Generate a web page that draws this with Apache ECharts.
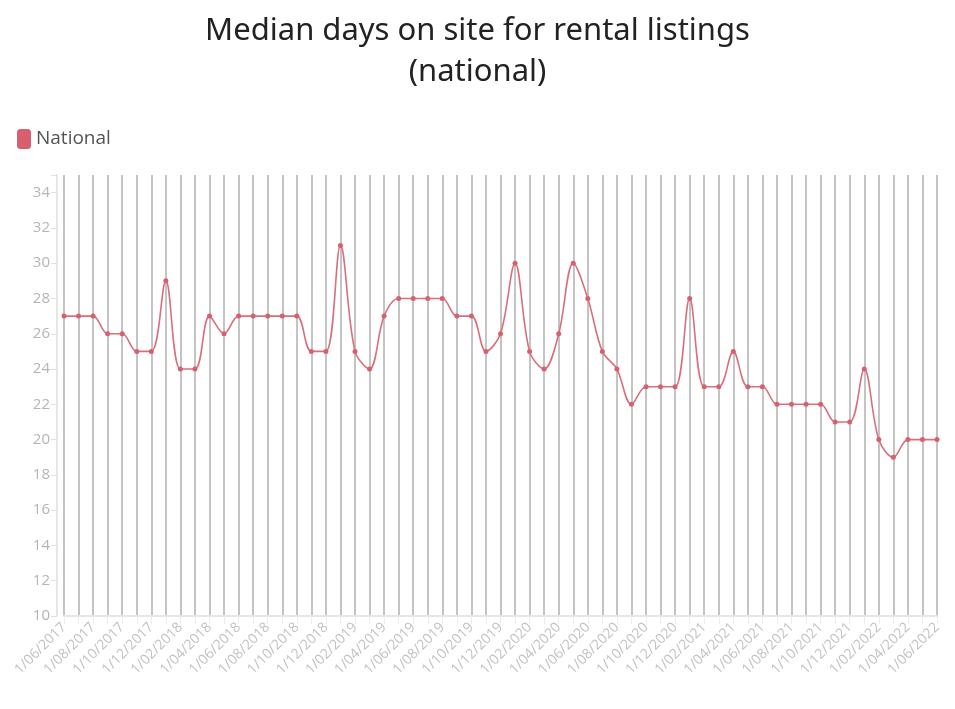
<!DOCTYPE html>
<html>
<head>
<meta charset="utf-8">
<script src="https://cdn.jsdelivr.net/npm/echarts@6/dist/echarts.min.js"></script>
<style>
  html, body { margin: 0; padding: 0; background: #fff; }
  #main { width: 955px; height: 709px; }
</style>
</head>
<body>
<div id="main"></div>
<script>
// months from 1/06/2017 to 1/06/2022
var months = [
  '1/06/2017','1/07/2017','1/08/2017','1/09/2017','1/10/2017','1/11/2017','1/12/2017',
  '1/01/2018','1/02/2018','1/03/2018','1/04/2018','1/05/2018','1/06/2018','1/07/2018',
  '1/08/2018','1/09/2018','1/10/2018','1/11/2018','1/12/2018',
  '1/01/2019','1/02/2019','1/03/2019','1/04/2019','1/05/2019','1/06/2019','1/07/2019',
  '1/08/2019','1/09/2019','1/10/2019','1/11/2019','1/12/2019',
  '1/01/2020','1/02/2020','1/03/2020','1/04/2020','1/05/2020','1/06/2020','1/07/2020',
  '1/08/2020','1/09/2020','1/10/2020','1/11/2020','1/12/2020',
  '1/01/2021','1/02/2021','1/03/2021','1/04/2021','1/05/2021','1/06/2021','1/07/2021',
  '1/08/2021','1/09/2021','1/10/2021','1/11/2021','1/12/2021',
  '1/01/2022','1/02/2022','1/03/2022','1/04/2022','1/05/2022','1/06/2022'
];

var national = [
  27, 27, 27, 26, 26, 25, 25,
  29, 24, 24, 27, 26, 27, 27,
  27, 27, 27, 25, 25,
  31, 25, 24, 27, 28, 28, 28,
  28, 27, 27, 25, 26,
  30, 25, 24, 26, 30, 28, 25,
  24, 22, 23, 23, 23,
  28, 23, 23, 25, 23, 23, 22,
  22, 22, 22, 21, 21,
  24, 20, 19, 20, 20, 20
];

var myChart = echarts.init(document.getElementById('main'));
var option = {
  animation: false,
  title: {
    text: 'Median days on site for rental listings\n(national)',
    left: 'center',
    top: 6,
    textStyle: {
      fontFamily: 'Noto Sans',
      fontSize: 31,
      fontWeight: 'normal',
      color: '#222',
      lineHeight: 41
    }
  },
  legend: {
    data: ['National'],
    left: 12,
    top: 124,
    icon: 'roundRect',
    itemWidth: 14,
    itemHeight: 20,
    itemGap: 6,
    textStyle: { fontFamily: 'Open Sans', fontSize: 19, color: '#555' }
  },
  grid: {
    left: 64,
    right: 18,
    top: 175,
    bottom: 93,
    containLabel: false
  },
  xAxis: {
    type: 'category',
    boundaryGap: false,
    data: months,
    axisLine: { lineStyle: { color: '#e6e6e6', width: 2 } },
    axisTick: { show: true, interval: 0, length: 8, lineStyle: { color: '#ececec' } },
    splitLine: {
      show: true,
      interval: 0,
      lineStyle: { color: '#c4c4c4', width: 2 }
    },
    axisLabel: {
      interval: 1,
      rotate: 45,
      color: '#c2c2c2',
      fontFamily: 'Open Sans',
      fontSize: 14,
      margin: 9
    }
  },
  yAxis: {
    type: 'value',
    min: 10,
    max: 35,
    interval: 2,
    offset: 7,
    axisLine: { show: true, lineStyle: { color: '#e6e6e6', width: 2 } },
    axisTick: { show: true, length: 6, lineStyle: { color: '#e0e0e0' } },
    splitLine: { show: false },
    axisLabel: {
      color: '#b5b5b5',
      fontFamily: 'Open Sans',
      fontSize: 15,
      margin: 7,
      formatter: function (v) { return v > 34 ? '' : v; }
    }
  },
  series: [{
    name: 'National',
    type: 'line',
    data: national,
    smooth: 0.35,
    symbol: 'circle',
    symbolSize: 5,
    lineStyle: { color: '#d8707b', width: 1.6 },
    itemStyle: { color: '#d8606e' }
  }],
  color: ['#e8606e']
};
myChart.setOption(option);
window.onresize = function () { myChart.resize(); };
</script>
</body>
</html>
